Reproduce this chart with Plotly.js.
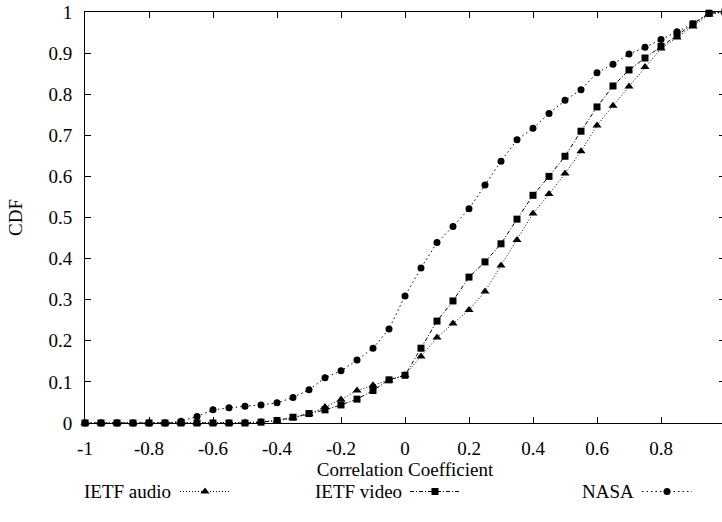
<!DOCTYPE html>
<html>
<head>
<meta charset="utf-8">
<script src="https://cdn.plot.ly/plotly-3.0.1.min.js"></script>
<style>
  html, body { margin: 0; padding: 0; overflow: hidden; background: #fff; }
  #chart { width: 726px; height: 522px; }
</style>
</head>
<body>
<div id="chart"></div>
<script>
// Correlation coefficient grid (step 0.05 from -1 to 1)
const coeff = [-1, -0.95, -0.9, -0.85, -0.8, -0.75, -0.7, -0.65, -0.6, -0.55,
               -0.5, -0.45, -0.4, -0.35, -0.3, -0.25, -0.2, -0.15, -0.1, -0.05,
               0, 0.05, 0.1, 0.15, 0.2, 0.25, 0.3, 0.35, 0.4, 0.45,
               0.5, 0.55, 0.6, 0.65, 0.7, 0.75, 0.8, 0.85, 0.9, 0.95, 1];

// CDF values per data set
const ietfAudio = [0, 0, 0, 0, 0, 0, 0, 0, 0, 0,
                   0.001, 0.003, 0.006, 0.012, 0.022, 0.039, 0.057, 0.079, 0.092, 0.104,
                   0.117, 0.162, 0.208, 0.242, 0.275, 0.320, 0.383, 0.445, 0.510, 0.557,
                   0.607, 0.661, 0.724, 0.772, 0.819, 0.866, 0.911, 0.938, 0.965, 0.994, 1];

const ietfVideo = [0, 0, 0, 0, 0, 0, 0, 0, 0, 0,
                   0, 0.002, 0.006, 0.014, 0.023, 0.032, 0.044, 0.058, 0.079, 0.105,
                   0.116, 0.182, 0.248, 0.297, 0.355, 0.392, 0.436, 0.496, 0.554, 0.600,
                   0.649, 0.710, 0.769, 0.820, 0.859, 0.888, 0.916, 0.945, 0.971, 0.997, 1];

const nasa = [0, 0, 0, 0, 0, 0, 0.004, 0.016, 0.032, 0.037,
              0.041, 0.044, 0.049, 0.062, 0.081, 0.110, 0.127, 0.153, 0.182, 0.229,
              0.309, 0.377, 0.439, 0.478, 0.521, 0.579, 0.637, 0.689, 0.717, 0.753,
              0.785, 0.811, 0.852, 0.873, 0.898, 0.914, 0.933, 0.952, 0.971, 0.997, 1];

const seriesNames = ["IETF audio", "IETF video", "NASA"];

// Axis ticks and their labels (plain hyphen for negatives)
const xTicks = [-1, -0.8, -0.6, -0.4, -0.2, 0, 0.2, 0.4, 0.6, 0.8, 1];
const xTickLabels = ["-1", "-0.8", "-0.6", "-0.4", "-0.2", "0", "0.2", "0.4", "0.6", "0.8", "1"];
const yTicks = [0, 0.1, 0.2, 0.3, 0.4, 0.5, 0.6, 0.7, 0.8, 0.9, 1];
const yTickLabels = ["0", "0.1", "0.2", "0.3", "0.4", "0.5", "0.6", "0.7", "0.8", "0.9", "1"];

const serif = "Liberation Serif";
const ink = "#000";
const fontSize = 19;

function series(y, symbol, size, dash, legendId) {
  return {
    x: coeff, y: y, type: "scatter", mode: "lines+markers", name: "",
    legend: legendId,
    cliponaxis: false,
    line: { color: ink, width: 1, dash: dash },
    marker: { symbol: symbol, size: size, color: ink, line: { width: 0 } }
  };
}

const traces = [
  series(ietfAudio, "triangle-up", 8, "1px,2px", "legend"),
  series(ietfVideo, "square", 7, "4px,2px,1px,2px", "legend2"),
  series(nasa, "circle", 7, "1.5px,3px", "legend3")
];

const axisCommon = {
  showgrid: false, zeroline: false,
  showline: true, linecolor: ink, linewidth: 1, mirror: "ticks",
  ticks: "inside", ticklen: 6, tickcolor: ink, tickwidth: 1,
  tickmode: "array",
  tickfont: { family: serif, size: fontSize, color: ink }
};

// Key row under the axis title: text on the left, sample on the right
const keyY = -0.167;
const annotations = [
  { text: seriesNames[0], x: 0.137, xanchor: "right" },
  { text: seriesNames[1], x: 0.498, xanchor: "right" },
  { text: seriesNames[2], x: 0.861, xanchor: "right" }
].map(a => Object.assign({
  xref: "paper", yref: "paper", y: keyY, yanchor: "middle",
  showarrow: false, font: { family: serif, size: fontSize, color: ink }
}, a));

function keyBox(xPos) {
  return {
    orientation: "v", x: xPos, xanchor: "left", y: keyY, yanchor: "middle",
    itemwidth: 50, bgcolor: "rgba(0,0,0,0)", borderwidth: 0,
    font: { family: serif, size: fontSize, color: ink }
  };
}

const layout = {
  width: 726, height: 522,
  margin: { l: 85, r: 1, t: 12, b: 99, autoexpand: false },
  paper_bgcolor: "#fff", plot_bgcolor: "#fff",
  font: { family: serif, size: fontSize, color: ink },
  xaxis: Object.assign({}, axisCommon, {
    range: [-1, 1], tickvals: xTicks, ticktext: xTickLabels,
    ticklabelstandoff: 8,
    title: { text: "Correlation Coefficient", font: { family: serif, size: fontSize, color: ink }, standoff: 1 }
  }),
  yaxis: Object.assign({}, axisCommon, {
    range: [0, 1], tickvals: yTicks, ticktext: yTickLabels,
    ticklabelstandoff: 8,
    title: { text: "CDF", font: { family: serif, size: fontSize, color: ink }, standoff: 20 }
  }),
  showlegend: true,
  legend: keyBox((175 - 85) / 640),
  legend2: keyBox((405 - 85) / 640),
  legend3: keyBox((637 - 85) / 640),
  annotations: annotations
};

Plotly.newPlot("chart", traces, layout, { staticPlot: true, displayModeBar: false });
</script>
</body>
</html>
